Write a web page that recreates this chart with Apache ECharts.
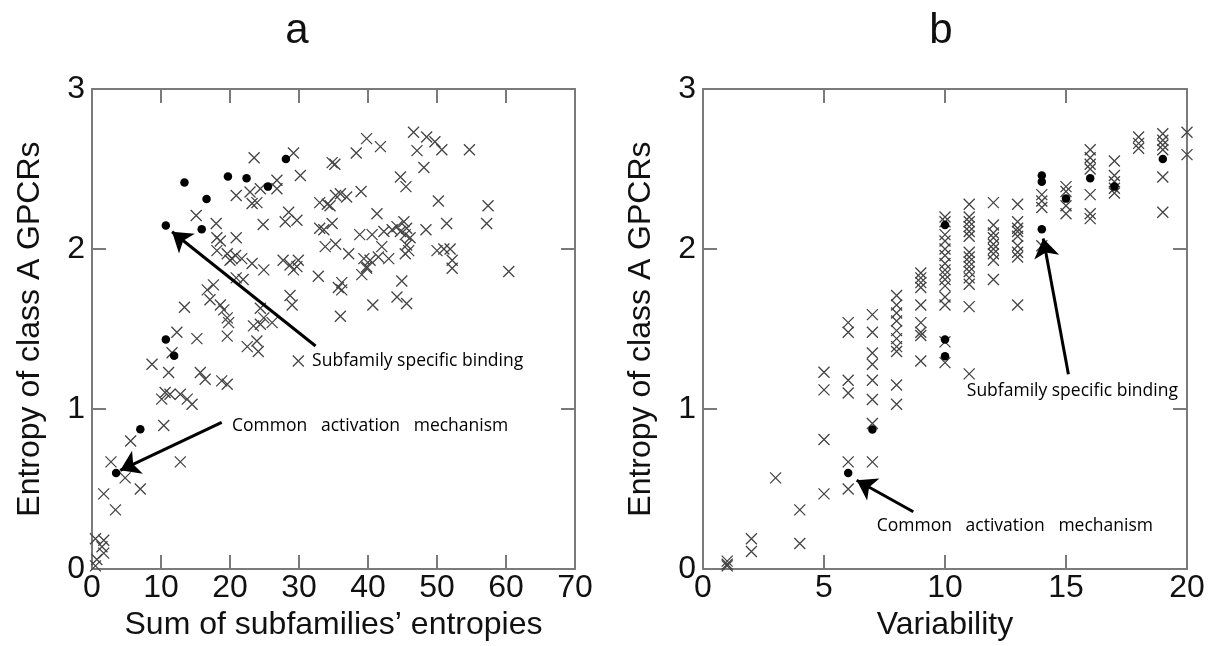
<!DOCTYPE html>
<html>
<head>
<meta charset="utf-8">
<script src="https://cdn.jsdelivr.net/npm/echarts@6/dist/echarts.min.js"></script>
<style>
html,body{margin:0;padding:0;background:#fff;}
#chart{width:1213px;height:646px;}
</style>
</head>
<body>
<div id="chart"></div>
<script>
// ---------- DATA ----------
var panelTitles = ['a', 'b'];
var xNameA = 'Sum of subfamilies\u2019 entropies';
var xNameB = 'Variability';
var yName = 'Entropy of class A GPCRs';

// Panel a: crosses [sum of subfamilies' entropies, entropy]
var aCrosses = [
  [23.5,2.57],[29.2,2.60],[30.2,2.46],[34.8,2.54],[35.2,2.53],[26.8,2.43],
  [20.9,2.335],[22.9,2.356],[24.4,2.377],[26.8,2.377],[23.2,2.284],[23.9,2.29],
  [33.0,2.29],[34.1,2.28],[35.3,2.335],[36.0,2.345],[36.9,2.325],
  [15.1,2.21],[18.0,2.16],[24.8,2.153],[28.0,2.17],[29.7,2.18],[28.5,2.23],
  [33.0,2.13],[33.6,2.12],[34.8,2.16],[33.8,2.015],[35.3,2.03],[37.2,1.97],
  [18.1,2.07],[18.6,2.05],[20.9,2.07],
  [18.1,1.99],[19.6,1.97],[20.3,1.94],[20.8,1.96],[21.7,1.94],[20.0,1.93],
  [23.2,1.91],[24.9,1.87],
  [27.7,1.93],[28.7,1.90],[29.9,1.93],[29.2,1.87],[29.7,1.89],
  [32.8,1.83],[35.7,1.76],[36.2,1.79],[36.2,1.745],[36.0,1.58],
  [20.9,1.82],[21.9,1.81],
  [16.7,1.745],[17.6,1.776],[17.1,1.683],[18.6,1.65],[19.1,1.62],
  [13.4,1.636],[19.6,1.57],[19.8,1.54],[24.4,1.63],[24.9,1.57],[28.7,1.71],[29.0,1.65],
  [23.4,1.52],[24.4,1.53],[26.1,1.54],
  [12.3,1.48],[15.2,1.44],[19.6,1.456],[22.5,1.39],[23.9,1.425],[24.1,1.36],
  [8.7,1.28],[11.6,1.352],[11.1,1.228],[15.7,1.228],[16.4,1.186],[18.8,1.176],[19.6,1.155],
  [10.1,1.062],[10.6,1.104],[11.3,1.093],[12.8,1.093],[13.8,1.062],[14.5,1.03],
  [10.4,0.897],[5.6,0.80],[2.75,0.67],[12.8,0.67],[4.8,0.57],[7.0,0.50],[1.7,0.47],[3.4,0.37],
  [0.5,0.19],[1.7,0.18],[1.45,0.14],[1.7,0.10],[0.7,0.06],[0.5,0.02],
  [29.9,1.30],
  [39.8,2.69],[41.8,2.64],[38.3,2.60],[46.6,2.73],[48.5,2.70],[49.7,2.67],[50.7,2.62],[47.1,2.615],[54.7,2.62],
  [48.1,2.51],[44.7,2.45],[45.5,2.39],[39.0,2.36],
  [34.5,2.27],[50.2,2.30],[57.4,2.27],[57.2,2.16],[41.3,2.22],[51.4,2.16],
  [38.8,2.09],[40.6,2.09],[42.3,2.11],[43.5,2.12],[44.2,2.14],[45.2,2.17],[45.6,2.13],[45.4,2.09],[46.1,2.07],[44.7,2.11],[48.4,2.12],
  [39.4,1.94],[40.3,1.93],[39.8,1.89],[41.5,1.95],[43.0,1.94],[42.0,2.015],
  [45.6,2.025],[45.4,1.97],[45.9,1.99],
  [50.0,1.99],[51.0,2.0],[51.9,2.0],[52.2,1.93],[52.2,1.88],
  [39.1,1.84],[39.8,1.88],[60.4,1.86],[44.9,1.80],[44.2,1.70],[45.6,1.66],[40.7,1.65]
];
// Panel a: filled circles
var aCircles = [
  [10.7,2.147],[13.4,2.416],[16.6,2.313],[15.9,2.124],[19.7,2.453],[22.4,2.443],
  [25.5,2.39],[28.1,2.563],[10.7,1.435],[11.9,1.333],[7.0,0.874],[3.5,0.60]
];

// Panel b: crosses grouped by variability value
var bVariability = [1,2,3,4,5,6,7,8,9,10,11,12,13,14,15,16,17,18,19,20];
var bCrossEntropy = [
  [0.05,0.03,0.02],
  [0.19,0.11],
  [0.57],
  [0.37,0.16],
  [1.23,1.12,0.81,0.47],
  [1.54,1.48,1.18,1.10,0.67,0.50],
  [1.59,1.48,1.35,1.28,1.18,1.06,0.91,0.67],
  [1.71,1.65,1.60,1.55,1.49,1.44,1.39,1.36,1.15,1.03],
  [1.85,1.82,1.79,1.76,1.65,1.54,1.48,1.46,1.30],
  [2.20,2.17,2.09,2.05,2.00,1.96,1.91,1.87,1.84,1.81,1.77,1.70,1.65,1.42,1.29],
  [2.28,2.20,2.17,2.14,2.11,2.08,1.98,1.95,1.92,1.89,1.86,1.82,1.78,1.64,1.22],
  [2.29,2.15,2.10,2.07,2.03,2.00,1.97,1.93,1.81],
  [2.28,2.17,2.13,2.11,2.08,2.02,1.98,1.95,1.65],
  [2.34,2.30,2.26,2.02],
  [2.39,2.36,2.27,2.22],
  [2.62,2.57,2.53,2.50,2.34,2.22,2.19],
  [2.55,2.46,2.42,2.38,2.35],
  [2.70,2.66,2.63],
  [2.72,2.68,2.65,2.62,2.45,2.23],
  [2.73,2.59]
];
var bCircles = [
  [6,0.60],[7,0.872],[10,1.33],[10,1.435],[10,2.15],[14,2.124],
  [14,2.42],[14,2.46],[15,2.315],[16,2.443],[17,2.39],[19,2.563]
];

// Annotations (data coordinates): arrow [from, to], label anchor
var annotA = [
  {text: 'Subfamily specific binding', at: [31.9, 1.30], from: [32.4, 1.394], to: [11.6, 2.108]},
  {text: 'Common   activation   mechanism', at: [20.3, 0.897], from: [18.8, 0.917], to: [4.1, 0.617]}
];
var annotB = [
  {text: 'Subfamily specific binding', at: [10.9, 1.114], from: [15.1, 1.217], to: [14.06, 2.066]},
  {text: 'Common   activation   mechanism', at: [7.18, 0.27], from: [8.69, 0.358], to: [6.35, 0.555]}
];

// axis ranges / ticks
var xRangeA = [0, 70, 10];
var xRangeB = [0, 20, 5];
var yRange = [0, 3, 1];

// ---------- BUILD ----------
var bCrosses = [];
bVariability.forEach(function (v, i) {
  bCrossEntropy[i].forEach(function (e) { bCrosses.push([v, e]); });
});

var AXIS_COLOR = '#7a7a7a';
var FONT = 'Liberation Sans, Arial, sans-serif';
var crossPath = 'path://M0,0L10,10M10,0L0,10';

function xAxisDef(grid, range, name, pos) {
  var main = pos === 'bottom';
  return {
    type: 'value', gridIndex: grid, position: pos,
    min: range[0], max: range[1], interval: range[2],
    name: main ? name : '', nameLocation: 'middle', nameGap: 30,
    nameTextStyle: {fontFamily: FONT, fontSize: 32, color: '#111'},
    axisLine: {show: true, onZero: false, lineStyle: {color: AXIS_COLOR, width: 2}},
    axisTick: {show: true, inside: true, length: 14, lineStyle: {color: AXIS_COLOR, width: 2}},
    axisLabel: {show: main, fontFamily: FONT, fontSize: 32, color: '#111', margin: 3},
    splitLine: {show: false}
  };
}
function yAxisDef(grid, pos) {
  var main = pos === 'left';
  return {
    type: 'value', gridIndex: grid, position: pos,
    min: yRange[0], max: yRange[1], interval: yRange[2],
    name: main ? yName : '', nameLocation: 'middle', nameGap: 46,
    nameTextStyle: {fontFamily: FONT, fontSize: 32, color: '#111'},
    axisLine: {show: true, onZero: false, lineStyle: {color: AXIS_COLOR, width: 2}},
    axisTick: {show: true, inside: true, length: 14, lineStyle: {color: AXIS_COLOR, width: 2}},
    axisLabel: {show: main, fontFamily: FONT, fontSize: 32, color: '#111', margin: 7},
    splitLine: {show: false}
  };
}

function annotSeries(axisIdx, annots) {
  return {
    type: 'scatter', xAxisIndex: axisIdx, yAxisIndex: axisIdx,
    data: annots.map(function (a) { return {value: a.at, name: a.text}; }),
    symbolSize: 0, silent: true,
    itemStyle: {color: '#000', opacity: 1},
    label: {show: true, position: 'right', distance: 0, formatter: '{b}',
      fontFamily: 'Open Sans, Noto Sans, sans-serif', fontSize: 17.5, color: '#000', opacity: 1},
    markLine: {
      silent: true, symbol: ['none', 'arrow'], symbolSize: 19,
      label: {show: false},
      lineStyle: {color: '#000', width: 3, type: 'solid', opacity: 1},
      itemStyle: {color: '#000'},
      emphasis: {disabled: true},
      data: annots.map(function (a) { return [{coord: a.from}, {coord: a.to}]; })
    },
    z: 5
  };
}

var crossStyle = {color: 'none', borderColor: '#444', borderWidth: 1.3, opacity: 1};
var circleStyle = {color: '#000', opacity: 1};

var option = {
  animation: false,
  backgroundColor: '#fff',
  grid: [
    {left: 92, top: 89, width: 483, height: 484},
    {left: 703, top: 89, width: 484, height: 484}
  ],
  xAxis: [
    xAxisDef(0, xRangeA, xNameA, 'bottom'),
    xAxisDef(1, xRangeB, xNameB, 'bottom'),
    xAxisDef(0, xRangeA, '', 'top'),
    xAxisDef(1, xRangeB, '', 'top')
  ],
  yAxis: [
    yAxisDef(0, 'left'),
    yAxisDef(1, 'left'),
    yAxisDef(0, 'right'),
    yAxisDef(1, 'right')
  ],
  graphic: [
    {type: 'text', x: 297, y: 31, style: {text: panelTitles[0], fontFamily: FONT, fontSize: 42, fill: '#111', textAlign: 'center', textVerticalAlign: 'middle'}},
    {type: 'text', x: 941, y: 31, style: {text: panelTitles[1], fontFamily: FONT, fontSize: 42, fill: '#111', textAlign: 'center', textVerticalAlign: 'middle'}}
  ],
  series: [
    {type: 'scatter', xAxisIndex: 0, yAxisIndex: 0, data: aCrosses, symbol: crossPath, symbolSize: 11, itemStyle: crossStyle, silent: true},
    {type: 'scatter', xAxisIndex: 0, yAxisIndex: 0, data: aCircles, symbol: 'circle', symbolSize: 8.5, itemStyle: circleStyle, silent: true, z: 3},
    {type: 'scatter', xAxisIndex: 1, yAxisIndex: 1, data: bCrosses, symbol: crossPath, symbolSize: 11, itemStyle: crossStyle, silent: true},
    {type: 'scatter', xAxisIndex: 1, yAxisIndex: 1, data: bCircles, symbol: 'circle', symbolSize: 8.5, itemStyle: circleStyle, silent: true, z: 3},
    annotSeries(0, annotA),
    annotSeries(1, annotB)
  ]
};

var chart = echarts.init(document.getElementById('chart'), null, {renderer: 'canvas'});
chart.setOption(option);
</script>
</body>
</html>
